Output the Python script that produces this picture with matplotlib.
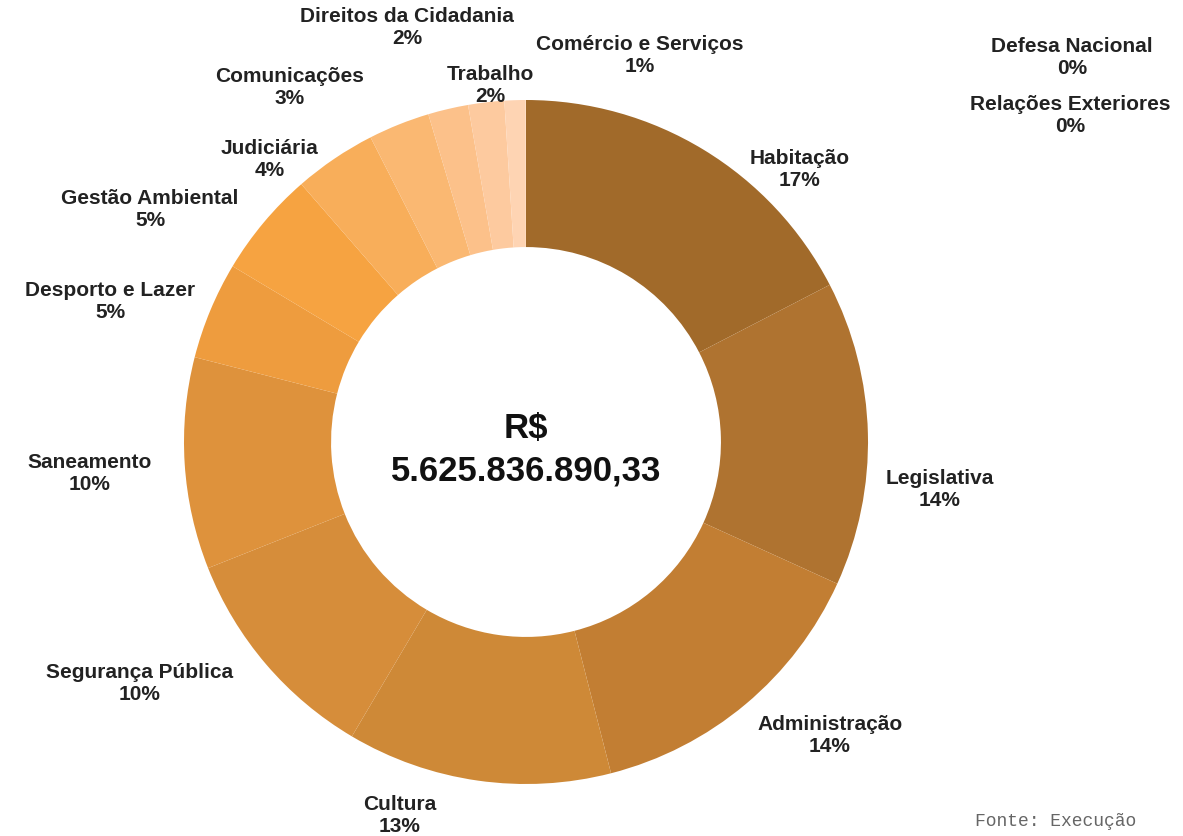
import matplotlib
matplotlib.use('Agg')
import matplotlib.pyplot as plt

plt.rcParams['font.family'] = ['Liberation Sans', 'DejaVu Sans']

categorias = ['Habitação', 'Legislativa', 'Administração', 'Cultura',
              'Segurança Pública', 'Saneamento', 'Desporto e Lazer',
              'Gestão Ambiental', 'Judiciária', 'Comunicações',
              'Direitos da Cidadania', 'Trabalho', 'Comércio e Serviços',
              'Defesa Nacional', 'Relações Exteriores']
# shares, printed labels are rounded
valores = [17.4, 14.4, 14.2, 12.5, 10.49, 10.0, 4.6, 5.0, 3.9, 2.9,
           1.9, 1.7, 1.0, 0.005, 0.005]
rotulos_pct = ['17%', '14%', '14%', '13%', '10%', '10%', '5%', '5%', '4%',
               '3%', '2%', '2%', '1%', '0%', '0%']
total = 'R$\n5.625.836.890,33'

cores = ['#A16A2A', '#AF7330', '#C27E33', '#CE8937', '#D68D3A', '#DE923C',
         '#EE9C3E', '#F6A341', '#F8AE5A', '#FAB872', '#FCC18A', '#FDCA9F',
         '#FED4B3', '#FEE0C8', '#FFE9D8']

# label centres in pixel coords (x, y from top)
pos_rotulos = [(800, 170), (940, 490), (830, 735), (400, 815),
               (140, 683), (90, 474), (110, 302), (150, 210),
               (270, 160), (290, 88), (407, 28), (490, 86),
               (640, 56), (1072, 57), (1070, 116)]

W, H = 1183, 836
fig = plt.figure(figsize=(W / 100, H / 100), dpi=100)
ax = fig.add_axes([0, 0, 1, 1])

cx, cy, R = 526, H - 442, 342
ax.pie(valores, colors=cores, startangle=90, counterclock=False,
       center=(cx, cy), radius=R,
       wedgeprops=dict(width=R * 0.43, linewidth=0))

for nome, p, (x, y) in zip(categorias, rotulos_pct, pos_rotulos):
    ax.text(x, H - y, f'{nome}\n{p}', ha='center', va='center',
            fontsize=15, fontweight='bold', color='#222222', linespacing=1.2)

ax.text(cx, cy - 8, total, ha='center', va='center', fontsize=25,
        fontweight='bold', color='#111111', linespacing=1.35)

ax.text(975, H - 822, 'Fonte: Execução', ha='left', va='center',
        fontsize=13, family='Liberation Mono', color='#666666')

ax.set_xlim(0, W)
ax.set_ylim(0, H)
ax.set_aspect('equal')
ax.axis('off')

fig.savefig('out.png', dpi=100, facecolor='white')
